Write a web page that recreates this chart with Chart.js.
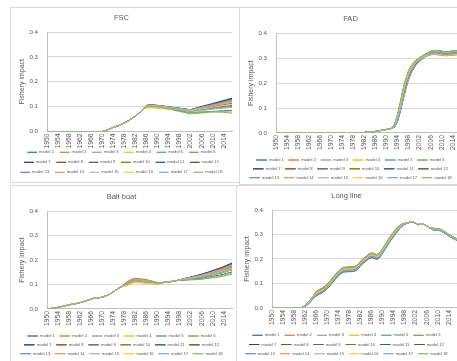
<!DOCTYPE html>
<html>
<head>
<meta charset="utf-8">
<title>Fishery impact by gear</title>
<script src="https://cdn.jsdelivr.net/npm/chart.js"></script>
<style>
  html, body { margin: 0; padding: 0; background: #fff; }
  #page { position: relative; width: 457px; height: 361px; overflow: hidden; }
  .frame { position: absolute; border: 1px solid #d9d9d9; box-sizing: border-box; }
  canvas { position: absolute; }
</style>
</head>
<body>
<div id="page">
  <div class="frame" style="left:10px;top:7px;width:230px;height:176px"></div>
  <div class="frame" style="left:239px;top:7px;width:231px;height:178px"></div>
  <div class="frame" style="left:10px;top:185px;width:227px;height:177px"></div>
  <div class="frame" style="left:236px;top:185px;width:230px;height:177px"></div>
  <canvas id="fsc" width="226" height="181" style="left:11px;top:8px"></canvas>
  <canvas id="fad" width="226" height="179" style="left:240px;top:8px"></canvas>
  <canvas id="bait" width="226" height="176" style="left:11px;top:187px"></canvas>
  <canvas id="longline" width="226" height="176" style="left:236px;top:187px"></canvas>
</div>
<script>
// years on the category axis
const years = ['1950','1951','1952','1953','1954','1955','1956','1957','1958','1959',
  '1960','1961','1962','1963','1964','1965','1966','1967','1968','1969',
  '1970','1971','1972','1973','1974','1975','1976','1977','1978','1979',
  '1980','1981','1982','1983','1984','1985','1986','1987','1988','1989',
  '1990','1991','1992','1993','1994','1995','1996','1997','1998','1999',
  '2000','2001','2002','2003','2004','2005','2006','2007','2008','2009',
  '2010','2011','2012','2013','2014','2015','2016','2017'];

const modelNames = ['model 1','model 2','model 3','model 4','model 5','model 6',
  'model 7','model 8','model 9','model 10','model 11','model 12',
  'model 13','model 14','model 15','model 16','model 17','model 18'];

const modelColors = ['#4472C4','#ED7D31','#A5A5A5','#FFC000','#5B9BD5','#70AD47',
  '#264478','#9E480E','#636363','#997300','#255E91','#43682B',
  '#698ED0','#F1975A','#B7B7B7','#FFCD33','#7CAFDD','#8CC168'];

// FSC: 1950-1985 (all models overlap), then 1986-2017 per model
const fscStart = [0,0,0,0,0,0,0,0,0,0,0,0,0,0,0,0,0,0,0,0,
  0,0.003,0.007,0.011,0.016,0.020,0.024,0.029,0.034,0.040,0.047,0.054,0.062,0.071,0.081,0.093];
const fscModels = [
  [0.104,0.106,0.106,0.105,0.104,0.103,0.102,0.100,0.098,0.097,0.095,0.094,0.092,0.091,0.090,0.088,0.087,0.090,0.093,0.096,0.099,0.102,0.105,0.107,0.110,0.113,0.116,0.119,0.122,0.125,0.128,0.131],
  [0.103,0.105,0.105,0.104,0.103,0.102,0.100,0.099,0.097,0.096,0.094,0.093,0.091,0.090,0.088,0.087,0.085,0.087,0.090,0.092,0.095,0.097,0.100,0.102,0.105,0.107,0.110,0.112,0.115,0.117,0.120,0.122],
  [0.105,0.107,0.107,0.106,0.105,0.104,0.102,0.101,0.099,0.098,0.096,0.095,0.094,0.092,0.091,0.089,0.088,0.091,0.094,0.097,0.101,0.104,0.107,0.110,0.113,0.116,0.119,0.122,0.126,0.129,0.132,0.135],
  [0.093,0.095,0.095,0.094,0.093,0.092,0.091,0.090,0.089,0.088,0.087,0.087,0.086,0.085,0.084,0.083,0.082,0.084,0.086,0.088,0.090,0.092,0.094,0.096,0.098,0.100,0.102,0.104,0.106,0.108,0.110,0.112],
  [0.100,0.102,0.102,0.101,0.100,0.099,0.097,0.096,0.094,0.093,0.091,0.090,0.088,0.087,0.085,0.084,0.082,0.083,0.085,0.086,0.087,0.088,0.090,0.091,0.092,0.093,0.095,0.096,0.097,0.098,0.100,0.101],
  [0.100,0.102,0.102,0.101,0.100,0.098,0.095,0.093,0.090,0.088,0.086,0.083,0.081,0.078,0.076,0.073,0.071,0.072,0.073,0.074,0.075,0.076,0.077,0.078,0.078,0.078,0.078,0.078,0.077,0.076,0.075,0.074],
  [0.105,0.107,0.107,0.106,0.105,0.104,0.102,0.101,0.099,0.098,0.096,0.095,0.094,0.092,0.091,0.089,0.088,0.091,0.094,0.097,0.100,0.103,0.106,0.109,0.112,0.115,0.118,0.121,0.124,0.127,0.130,0.133],
  [0.104,0.106,0.106,0.105,0.104,0.103,0.101,0.100,0.098,0.097,0.095,0.094,0.092,0.091,0.089,0.088,0.086,0.089,0.091,0.094,0.096,0.099,0.101,0.104,0.106,0.109,0.111,0.114,0.116,0.119,0.121,0.124],
  [0.103,0.105,0.105,0.104,0.103,0.102,0.100,0.099,0.097,0.096,0.095,0.093,0.092,0.090,0.089,0.087,0.086,0.089,0.092,0.094,0.097,0.100,0.103,0.106,0.108,0.111,0.114,0.117,0.120,0.122,0.125,0.128],
  [0.098,0.100,0.100,0.099,0.098,0.097,0.096,0.094,0.093,0.092,0.091,0.089,0.088,0.087,0.086,0.084,0.083,0.085,0.087,0.089,0.091,0.093,0.095,0.097,0.100,0.102,0.104,0.106,0.108,0.110,0.112,0.114],
  [0.101,0.103,0.103,0.102,0.101,0.100,0.098,0.097,0.095,0.094,0.092,0.091,0.089,0.088,0.086,0.085,0.083,0.085,0.086,0.088,0.089,0.091,0.092,0.094,0.095,0.097,0.098,0.100,0.101,0.103,0.104,0.106],
  [0.101,0.103,0.103,0.102,0.101,0.099,0.097,0.095,0.093,0.091,0.088,0.086,0.084,0.082,0.080,0.078,0.076,0.077,0.077,0.078,0.078,0.079,0.080,0.080,0.081,0.081,0.082,0.083,0.083,0.084,0.084,0.085],
  [0.104,0.106,0.106,0.105,0.104,0.103,0.102,0.100,0.098,0.097,0.095,0.094,0.092,0.091,0.090,0.088,0.087,0.090,0.092,0.095,0.097,0.100,0.103,0.105,0.108,0.110,0.113,0.116,0.118,0.121,0.123,0.126],
  [0.102,0.104,0.104,0.103,0.102,0.101,0.100,0.098,0.096,0.095,0.094,0.092,0.091,0.089,0.088,0.086,0.085,0.087,0.089,0.092,0.094,0.096,0.098,0.100,0.103,0.105,0.107,0.109,0.111,0.114,0.116,0.118],
  [0.104,0.106,0.106,0.105,0.104,0.103,0.101,0.100,0.098,0.097,0.095,0.094,0.092,0.091,0.089,0.088,0.086,0.088,0.091,0.093,0.096,0.098,0.101,0.103,0.106,0.108,0.111,0.113,0.116,0.118,0.121,0.123],
  [0.095,0.097,0.097,0.096,0.095,0.094,0.093,0.092,0.091,0.090,0.089,0.088,0.087,0.086,0.085,0.084,0.083,0.085,0.086,0.088,0.090,0.092,0.093,0.095,0.097,0.099,0.100,0.102,0.104,0.105,0.107,0.109],
  [0.100,0.102,0.102,0.101,0.100,0.098,0.097,0.095,0.094,0.092,0.090,0.089,0.087,0.086,0.084,0.082,0.081,0.082,0.083,0.084,0.085,0.086,0.087,0.088,0.090,0.091,0.092,0.093,0.094,0.095,0.096,0.097],
  [0.099,0.101,0.101,0.100,0.099,0.097,0.095,0.094,0.092,0.090,0.088,0.086,0.085,0.083,0.081,0.079,0.077,0.077,0.078,0.078,0.078,0.079,0.079,0.079,0.080,0.080,0.080,0.081,0.081,0.081,0.082,0.082]
];

// FAD: 1950-1992 shared, then 1993-2017 per model
const fadStart = [0,0,0,0,0,0,0,0,0,0,0,0,0,0,0,0,0,0,0,0,0,0,0,0,0,0,0,0,0,0,
  0,0.001,0.002,0.003,0.004,0.005,0.006,0.008,0.010,0.012,0.014,0.016,0.019];
const fadModels = [
  [0.025,0.048,0.088,0.135,0.180,0.218,0.245,0.264,0.278,0.289,0.298,0.306,0.313,0.318,0.321,0.322,0.321,0.319,0.318,0.318,0.319,0.320,0.321,0.322,0.323],
  [0.030,0.060,0.105,0.155,0.200,0.235,0.258,0.274,0.285,0.294,0.301,0.306,0.310,0.313,0.315,0.315,0.313,0.311,0.310,0.310,0.311,0.312,0.313,0.314,0.315],
  [0.034,0.068,0.117,0.168,0.212,0.245,0.266,0.280,0.291,0.299,0.306,0.313,0.319,0.324,0.327,0.328,0.327,0.325,0.324,0.324,0.325,0.326,0.326,0.327,0.328],
  [0.031,0.062,0.108,0.158,0.203,0.237,0.259,0.275,0.287,0.296,0.303,0.309,0.314,0.317,0.319,0.319,0.317,0.315,0.313,0.313,0.314,0.315,0.316,0.317,0.317],
  [0.024,0.046,0.085,0.131,0.176,0.214,0.242,0.262,0.277,0.288,0.297,0.305,0.312,0.317,0.320,0.321,0.320,0.318,0.317,0.317,0.318,0.319,0.320,0.321,0.322],
  [0.036,0.072,0.122,0.175,0.218,0.250,0.270,0.284,0.295,0.303,0.310,0.317,0.323,0.328,0.331,0.332,0.331,0.329,0.327,0.327,0.328,0.329,0.329,0.330,0.331],
  [0.026,0.050,0.090,0.138,0.183,0.221,0.247,0.266,0.280,0.291,0.300,0.308,0.315,0.320,0.323,0.324,0.323,0.321,0.320,0.320,0.321,0.322,0.323,0.324,0.325],
  [0.030,0.061,0.106,0.156,0.201,0.236,0.258,0.274,0.286,0.295,0.302,0.308,0.313,0.316,0.318,0.318,0.316,0.314,0.312,0.312,0.313,0.314,0.315,0.316,0.317],
  [0.031,0.063,0.110,0.160,0.205,0.239,0.261,0.277,0.289,0.298,0.305,0.311,0.317,0.321,0.323,0.323,0.322,0.320,0.318,0.318,0.319,0.320,0.321,0.322,0.322],
  [0.032,0.064,0.111,0.161,0.206,0.240,0.262,0.277,0.288,0.297,0.304,0.310,0.315,0.318,0.320,0.320,0.318,0.316,0.314,0.314,0.315,0.316,0.317,0.318,0.319],
  [0.025,0.047,0.087,0.133,0.178,0.216,0.244,0.263,0.278,0.289,0.298,0.306,0.313,0.318,0.321,0.322,0.321,0.319,0.318,0.318,0.319,0.320,0.321,0.322,0.323],
  [0.035,0.070,0.120,0.172,0.215,0.248,0.268,0.282,0.293,0.301,0.308,0.315,0.321,0.326,0.329,0.330,0.329,0.327,0.326,0.326,0.327,0.328,0.328,0.329,0.330],
  [0.026,0.049,0.089,0.136,0.181,0.219,0.246,0.265,0.279,0.290,0.299,0.307,0.314,0.319,0.322,0.323,0.322,0.320,0.319,0.319,0.320,0.321,0.322,0.323,0.324],
  [0.030,0.061,0.107,0.157,0.202,0.236,0.259,0.275,0.286,0.295,0.302,0.307,0.311,0.314,0.316,0.316,0.314,0.312,0.311,0.311,0.312,0.313,0.314,0.315,0.316],
  [0.033,0.066,0.115,0.166,0.210,0.244,0.265,0.279,0.290,0.298,0.305,0.312,0.318,0.323,0.326,0.327,0.326,0.324,0.323,0.323,0.324,0.325,0.325,0.326,0.327],
  [0.031,0.062,0.108,0.158,0.203,0.237,0.260,0.276,0.287,0.296,0.303,0.309,0.313,0.316,0.318,0.318,0.316,0.314,0.312,0.312,0.313,0.314,0.315,0.316,0.316],
  [0.024,0.047,0.086,0.132,0.177,0.215,0.243,0.263,0.277,0.288,0.297,0.305,0.312,0.317,0.320,0.321,0.320,0.318,0.317,0.317,0.318,0.319,0.320,0.321,0.322],
  [0.035,0.071,0.121,0.173,0.216,0.249,0.269,0.283,0.294,0.302,0.309,0.316,0.322,0.327,0.330,0.331,0.330,0.328,0.326,0.326,0.327,0.328,0.328,0.329,0.330]
];

// Bait boat: 1950-1977 shared, then 1978-2017 per model
const baitStart = [0,0.001,0.003,0.005,0.007,0.009,0.011,0.014,0.017,0.019,
  0.021,0.023,0.026,0.029,0.032,0.036,0.041,0.044,0.045,0.046,
  0.048,0.052,0.057,0.063,0.070,0.078,0.085,0.091];
const baitModels = [
  [0.098,0.104,0.110,0.115,0.118,0.117,0.115,0.114,0.113,0.112,0.110,0.107,0.104,0.106,0.108,0.109,0.110,0.112,0.114,0.116,0.119,0.121,0.124,0.127,0.130,0.132,0.135,0.138,0.140,0.144,0.148,0.151,0.155,0.159,0.163,0.166,0.171,0.176,0.180,0.185],
  [0.102,0.111,0.117,0.122,0.125,0.124,0.122,0.121,0.120,0.116,0.114,0.111,0.108,0.106,0.108,0.109,0.110,0.112,0.114,0.116,0.118,0.121,0.123,0.125,0.128,0.130,0.132,0.134,0.137,0.140,0.143,0.147,0.150,0.153,0.157,0.160,0.164,0.168,0.173,0.177],
  [0.099,0.106,0.112,0.117,0.120,0.119,0.117,0.116,0.115,0.113,0.111,0.108,0.105,0.106,0.108,0.109,0.110,0.112,0.114,0.116,0.119,0.121,0.124,0.126,0.129,0.131,0.134,0.136,0.139,0.142,0.146,0.149,0.153,0.156,0.160,0.163,0.168,0.172,0.177,0.181],
  [0.093,0.094,0.100,0.105,0.108,0.107,0.106,0.105,0.104,0.104,0.103,0.101,0.099,0.104,0.107,0.109,0.110,0.112,0.114,0.116,0.118,0.120,0.122,0.124,0.126,0.127,0.129,0.131,0.133,0.136,0.139,0.142,0.145,0.148,0.151,0.153,0.157,0.161,0.165,0.169],
  [0.097,0.102,0.108,0.113,0.116,0.115,0.113,0.112,0.111,0.111,0.109,0.106,0.103,0.106,0.108,0.109,0.110,0.112,0.114,0.116,0.117,0.119,0.120,0.122,0.123,0.124,0.126,0.127,0.129,0.131,0.133,0.136,0.138,0.141,0.143,0.145,0.149,0.152,0.156,0.159],
  [0.098,0.104,0.110,0.115,0.118,0.117,0.115,0.114,0.113,0.112,0.110,0.107,0.104,0.106,0.108,0.109,0.110,0.112,0.114,0.116,0.117,0.117,0.118,0.118,0.119,0.119,0.120,0.120,0.121,0.123,0.124,0.126,0.127,0.129,0.130,0.132,0.134,0.137,0.139,0.142],
  [0.099,0.106,0.112,0.117,0.120,0.119,0.117,0.116,0.115,0.113,0.111,0.108,0.105,0.106,0.108,0.109,0.110,0.112,0.114,0.116,0.119,0.122,0.125,0.127,0.130,0.133,0.136,0.139,0.142,0.146,0.149,0.153,0.157,0.161,0.165,0.169,0.173,0.178,0.183,0.188],
  [0.101,0.110,0.116,0.121,0.124,0.123,0.121,0.120,0.119,0.115,0.113,0.110,0.107,0.106,0.108,0.109,0.110,0.112,0.114,0.116,0.118,0.121,0.123,0.126,0.128,0.130,0.133,0.135,0.138,0.141,0.144,0.148,0.151,0.155,0.158,0.161,0.166,0.170,0.175,0.179],
  [0.099,0.105,0.111,0.116,0.119,0.118,0.116,0.115,0.114,0.113,0.111,0.108,0.105,0.106,0.108,0.109,0.110,0.112,0.114,0.116,0.119,0.121,0.124,0.126,0.129,0.132,0.134,0.137,0.139,0.143,0.147,0.150,0.154,0.157,0.161,0.165,0.169,0.174,0.178,0.183],
  [0.096,0.100,0.106,0.111,0.114,0.113,0.111,0.110,0.109,0.109,0.108,0.105,0.102,0.106,0.108,0.109,0.110,0.112,0.114,0.116,0.118,0.120,0.122,0.124,0.126,0.128,0.130,0.132,0.134,0.137,0.140,0.143,0.146,0.149,0.152,0.155,0.159,0.163,0.167,0.171],
  [0.098,0.103,0.109,0.114,0.117,0.116,0.114,0.113,0.112,0.112,0.110,0.107,0.104,0.106,0.108,0.109,0.110,0.112,0.114,0.116,0.118,0.119,0.121,0.123,0.125,0.126,0.128,0.130,0.131,0.134,0.137,0.139,0.142,0.145,0.148,0.150,0.154,0.158,0.161,0.165],
  [0.099,0.105,0.111,0.116,0.119,0.118,0.116,0.115,0.114,0.113,0.111,0.108,0.105,0.106,0.108,0.109,0.110,0.112,0.114,0.116,0.117,0.118,0.119,0.120,0.121,0.122,0.123,0.124,0.125,0.127,0.129,0.131,0.133,0.135,0.137,0.139,0.142,0.145,0.148,0.151],
  [0.099,0.105,0.111,0.116,0.119,0.118,0.116,0.115,0.114,0.113,0.111,0.108,0.105,0.106,0.108,0.109,0.110,0.112,0.114,0.116,0.118,0.121,0.123,0.125,0.127,0.130,0.132,0.134,0.136,0.140,0.143,0.146,0.149,0.153,0.156,0.159,0.163,0.168,0.172,0.176],
  [0.101,0.109,0.115,0.120,0.123,0.122,0.120,0.119,0.118,0.115,0.113,0.110,0.107,0.106,0.108,0.109,0.110,0.112,0.114,0.116,0.118,0.120,0.122,0.125,0.127,0.129,0.131,0.133,0.135,0.139,0.142,0.145,0.148,0.151,0.154,0.157,0.162,0.166,0.170,0.174],
  [0.099,0.106,0.112,0.117,0.120,0.119,0.117,0.116,0.115,0.113,0.111,0.108,0.105,0.106,0.108,0.109,0.110,0.112,0.114,0.116,0.118,0.121,0.123,0.126,0.128,0.130,0.133,0.135,0.138,0.141,0.144,0.148,0.151,0.155,0.158,0.161,0.166,0.170,0.175,0.179],
  [0.094,0.096,0.102,0.107,0.110,0.109,0.107,0.106,0.105,0.105,0.104,0.102,0.100,0.105,0.107,0.109,0.110,0.112,0.114,0.116,0.118,0.120,0.121,0.123,0.125,0.127,0.129,0.130,0.132,0.135,0.138,0.141,0.143,0.146,0.149,0.152,0.156,0.159,0.163,0.167],
  [0.097,0.102,0.108,0.113,0.116,0.115,0.113,0.112,0.111,0.111,0.109,0.106,0.103,0.106,0.108,0.109,0.110,0.112,0.114,0.116,0.118,0.119,0.121,0.122,0.124,0.125,0.127,0.128,0.130,0.133,0.135,0.138,0.140,0.143,0.145,0.148,0.151,0.155,0.158,0.162],
  [0.098,0.104,0.110,0.115,0.118,0.117,0.115,0.114,0.113,0.112,0.110,0.107,0.104,0.106,0.108,0.109,0.110,0.112,0.114,0.116,0.117,0.118,0.118,0.119,0.120,0.121,0.122,0.122,0.123,0.125,0.127,0.129,0.130,0.132,0.134,0.136,0.139,0.141,0.144,0.147]
];

// Long line: 1950-1962 shared, then 1963-2017 per model
const longStart = [0,0,0,0,0,0,0,0,0,0,0,0.002,0.008];
const longModels = [
  [0.013,0.025,0.040,0.048,0.055,0.060,0.068,0.078,0.090,0.105,0.118,0.130,0.140,0.146,0.147,0.148,0.148,0.150,0.157,0.170,0.182,0.190,0.200,0.205,0.202,0.198,0.205,0.222,0.240,0.258,0.275,0.290,0.305,0.321,0.332,0.341,0.347,0.350,0.352,0.345,0.340,0.343,0.342,0.336,0.328,0.320,0.317,0.317,0.315,0.309,0.302,0.294,0.287,0.281,0.276],
  [0.015,0.027,0.042,0.052,0.059,0.064,0.072,0.082,0.094,0.109,0.122,0.134,0.144,0.150,0.151,0.152,0.152,0.154,0.161,0.174,0.186,0.194,0.204,0.209,0.206,0.202,0.209,0.226,0.244,0.262,0.279,0.294,0.309,0.324,0.334,0.342,0.347,0.350,0.352,0.345,0.340,0.343,0.342,0.336,0.328,0.322,0.319,0.319,0.317,0.311,0.304,0.296,0.289,0.283,0.278],
  [0.021,0.033,0.048,0.064,0.071,0.076,0.084,0.094,0.106,0.121,0.134,0.146,0.156,0.162,0.163,0.164,0.164,0.166,0.173,0.186,0.198,0.206,0.216,0.221,0.218,0.214,0.221,0.238,0.256,0.274,0.291,0.306,0.321,0.333,0.340,0.345,0.347,0.350,0.352,0.345,0.340,0.343,0.342,0.336,0.328,0.326,0.323,0.323,0.321,0.315,0.308,0.300,0.293,0.287,0.282],
  [0.017,0.029,0.044,0.055,0.062,0.067,0.075,0.085,0.097,0.112,0.125,0.137,0.147,0.153,0.154,0.155,0.155,0.157,0.164,0.177,0.189,0.197,0.207,0.212,0.209,0.205,0.212,0.229,0.247,0.265,0.282,0.297,0.312,0.326,0.336,0.342,0.347,0.350,0.352,0.345,0.340,0.343,0.342,0.336,0.328,0.323,0.320,0.320,0.318,0.312,0.305,0.297,0.290,0.284,0.279],
  [0.014,0.026,0.041,0.050,0.057,0.062,0.070,0.080,0.092,0.107,0.120,0.132,0.142,0.148,0.149,0.150,0.150,0.152,0.159,0.172,0.184,0.192,0.202,0.207,0.204,0.200,0.207,0.224,0.242,0.260,0.277,0.292,0.307,0.322,0.333,0.341,0.347,0.350,0.352,0.345,0.340,0.343,0.342,0.336,0.328,0.320,0.317,0.317,0.315,0.309,0.302,0.294,0.287,0.281,0.276],
  [0.023,0.035,0.050,0.068,0.075,0.080,0.088,0.098,0.110,0.125,0.138,0.150,0.160,0.166,0.167,0.168,0.168,0.170,0.177,0.190,0.202,0.210,0.220,0.225,0.222,0.218,0.225,0.242,0.260,0.278,0.295,0.310,0.325,0.336,0.342,0.346,0.347,0.350,0.352,0.345,0.340,0.343,0.342,0.336,0.328,0.327,0.324,0.324,0.322,0.316,0.309,0.301,0.294,0.288,0.283],
  [0.016,0.028,0.043,0.054,0.061,0.066,0.074,0.084,0.096,0.111,0.124,0.136,0.146,0.152,0.153,0.154,0.154,0.156,0.163,0.176,0.188,0.196,0.206,0.211,0.208,0.204,0.211,0.228,0.246,0.264,0.281,0.296,0.311,0.325,0.335,0.342,0.347,0.350,0.352,0.345,0.340,0.343,0.342,0.336,0.328,0.322,0.319,0.319,0.317,0.311,0.304,0.296,0.289,0.283,0.278],
  [0.017,0.029,0.044,0.056,0.063,0.068,0.076,0.086,0.098,0.113,0.126,0.138,0.148,0.154,0.155,0.156,0.156,0.158,0.165,0.178,0.190,0.198,0.208,0.213,0.210,0.206,0.213,0.230,0.248,0.266,0.283,0.298,0.313,0.327,0.336,0.343,0.347,0.350,0.352,0.345,0.340,0.343,0.342,0.336,0.328,0.323,0.320,0.320,0.318,0.312,0.305,0.297,0.290,0.284,0.279],
  [0.020,0.032,0.047,0.062,0.069,0.074,0.082,0.092,0.104,0.119,0.132,0.144,0.154,0.160,0.161,0.162,0.162,0.164,0.171,0.184,0.196,0.204,0.214,0.219,0.216,0.212,0.219,0.236,0.254,0.272,0.289,0.304,0.319,0.331,0.339,0.344,0.347,0.350,0.352,0.345,0.340,0.343,0.342,0.336,0.328,0.325,0.322,0.322,0.320,0.314,0.307,0.299,0.292,0.286,0.281],
  [0.018,0.030,0.045,0.058,0.065,0.070,0.078,0.088,0.100,0.115,0.128,0.140,0.150,0.156,0.157,0.158,0.158,0.160,0.167,0.180,0.192,0.200,0.210,0.215,0.212,0.208,0.215,0.232,0.250,0.268,0.285,0.300,0.315,0.328,0.337,0.343,0.347,0.350,0.352,0.345,0.340,0.343,0.342,0.336,0.328,0.323,0.320,0.320,0.318,0.312,0.305,0.297,0.290,0.284,0.279],
  [0.015,0.027,0.042,0.051,0.058,0.063,0.071,0.081,0.093,0.108,0.121,0.133,0.143,0.149,0.150,0.151,0.151,0.153,0.160,0.173,0.185,0.193,0.203,0.208,0.205,0.201,0.208,0.225,0.243,0.261,0.278,0.293,0.308,0.323,0.334,0.341,0.347,0.350,0.352,0.345,0.340,0.343,0.342,0.336,0.328,0.321,0.318,0.318,0.316,0.310,0.303,0.295,0.288,0.282,0.277],
  [0.022,0.034,0.049,0.066,0.073,0.078,0.086,0.096,0.108,0.123,0.136,0.148,0.158,0.164,0.165,0.166,0.166,0.168,0.175,0.188,0.200,0.208,0.218,0.223,0.220,0.216,0.223,0.240,0.258,0.276,0.293,0.308,0.323,0.334,0.341,0.345,0.347,0.350,0.352,0.345,0.340,0.343,0.342,0.336,0.328,0.326,0.323,0.323,0.321,0.315,0.308,0.300,0.293,0.287,0.282],
  [0.016,0.028,0.043,0.053,0.060,0.065,0.073,0.083,0.095,0.110,0.123,0.135,0.145,0.151,0.152,0.153,0.153,0.155,0.162,0.175,0.187,0.195,0.205,0.210,0.207,0.203,0.210,0.227,0.245,0.263,0.280,0.295,0.310,0.324,0.335,0.342,0.347,0.350,0.352,0.345,0.340,0.343,0.342,0.336,0.328,0.322,0.319,0.319,0.317,0.311,0.304,0.296,0.289,0.283,0.278],
  [0.018,0.030,0.045,0.057,0.064,0.069,0.077,0.087,0.099,0.114,0.127,0.139,0.149,0.155,0.156,0.157,0.157,0.159,0.166,0.179,0.191,0.199,0.209,0.214,0.211,0.207,0.214,0.231,0.249,0.267,0.284,0.299,0.314,0.327,0.336,0.343,0.347,0.350,0.352,0.345,0.340,0.343,0.342,0.336,0.328,0.323,0.320,0.320,0.318,0.312,0.305,0.297,0.290,0.284,0.279],
  [0.021,0.033,0.048,0.063,0.070,0.075,0.083,0.093,0.105,0.120,0.133,0.145,0.155,0.161,0.162,0.163,0.163,0.165,0.172,0.185,0.197,0.205,0.215,0.220,0.217,0.213,0.220,0.237,0.255,0.273,0.290,0.305,0.320,0.332,0.340,0.344,0.347,0.350,0.352,0.345,0.340,0.343,0.342,0.336,0.328,0.325,0.322,0.322,0.320,0.314,0.307,0.299,0.292,0.286,0.281],
  [0.019,0.031,0.046,0.059,0.066,0.071,0.079,0.089,0.101,0.116,0.129,0.141,0.151,0.157,0.158,0.159,0.159,0.161,0.168,0.181,0.193,0.201,0.211,0.216,0.213,0.209,0.216,0.233,0.251,0.269,0.286,0.301,0.316,0.329,0.338,0.343,0.347,0.350,0.352,0.345,0.340,0.343,0.342,0.336,0.328,0.323,0.320,0.320,0.318,0.312,0.305,0.297,0.290,0.284,0.279],
  [0.015,0.027,0.042,0.052,0.059,0.064,0.072,0.082,0.094,0.109,0.122,0.134,0.144,0.150,0.151,0.152,0.152,0.154,0.161,0.174,0.186,0.194,0.204,0.209,0.206,0.202,0.209,0.226,0.244,0.262,0.279,0.294,0.309,0.324,0.334,0.342,0.347,0.350,0.352,0.345,0.340,0.343,0.342,0.336,0.328,0.321,0.318,0.318,0.316,0.310,0.303,0.295,0.288,0.282,0.277],
  [0.023,0.035,0.050,0.067,0.074,0.079,0.087,0.097,0.109,0.124,0.137,0.149,0.159,0.165,0.166,0.167,0.167,0.169,0.176,0.189,0.201,0.209,0.219,0.224,0.221,0.217,0.224,0.241,0.259,0.277,0.294,0.309,0.324,0.335,0.342,0.345,0.347,0.350,0.352,0.345,0.340,0.343,0.342,0.336,0.328,0.326,0.323,0.323,0.321,0.315,0.308,0.300,0.293,0.287,0.282]
];

Chart.defaults.font.family = '"Liberation Sans", Arial, sans-serif';
Chart.defaults.color = '#595959';

// nudges the legend block up/down after layout so the rows sit where the original has them
const legendShift = {
  id: 'legendShift',
  afterLayout(chart, args, opts) {
    const lg = chart.legend;
    if (lg && opts.shift) {
      lg.top -= opts.shift;
      lg.bottom -= opts.shift;
    }
  }
};

// vertical year labels every 4th category, placed with the x scale
// (Chart.js squeezes rotated tick text when the axis is this short)
const yearLabels = {
  id: 'yearLabels',
  afterDraw(chart) {
    const sc = chart.scales.x;
    const c = chart.ctx;
    c.save();
    c.fillStyle = '#595959';
    c.font = '6.8px "Liberation Sans", Arial, sans-serif';
    c.textAlign = 'right';
    c.textBaseline = 'middle';
    years.forEach((label, i) => {
      if (i % 4 !== 0) return;
      c.save();
      c.translate(sc.getPixelForTick(i), sc.top + 2);
      c.rotate(-Math.PI / 2);
      c.fillText(label, 0, 0);
      c.restore();
    });
    c.restore();
  }
};

const panels = [
  { id: 'fsc', title: 'FSC', start: fscStart, models: fscModels, titlePad: { top: 5.5, bottom: 9.5 }, legendPad: 5.8, boxW: 9.5, shift: 4.6 },
  { id: 'fad', title: 'FAD', start: fadStart, models: fadModels, titlePad: { top: 6.5, bottom: 9.8 }, legendPad: 4.65, boxW: 10.5, shift: -2.8 },
  { id: 'bait', title: 'Bait boat', start: baitStart, models: baitModels, titlePad: { top: 5.8, bottom: 9.2 }, legendPad: 4.65, boxW: 10.5, shift: -2.8 },
  { id: 'longline', title: 'Long line', start: longStart, models: longModels, titlePad: { top: 4.2, bottom: 9.8 }, legendPad: 5.0, boxW: 10.2, shift: -2.8 }
];

function drawPanel(p) {
  const ctx = document.getElementById(p.id).getContext('2d');
  new Chart(ctx, {
    type: 'line',
    plugins: [legendShift, yearLabels],
    data: {
      labels: years,
      datasets: p.models.map((vals, i) => ({
        label: modelNames[i],
        data: p.start.concat(vals),
        borderColor: modelColors[i],
        backgroundColor: modelColors[i],
        borderWidth: 1,
        pointRadius: 0,
        order: modelNames.length - i   // later models on top, like the original
      }))
    },
    options: {
      responsive: false,
      animation: false,
      events: [],
      layout: { padding: { left: 0, right: 5, top: 0, bottom: 0 } },
      plugins: {
        title: {
          display: true,
          text: p.title,
          color: '#595959',
          font: { size: 7.5, weight: 'normal' },
          padding: p.titlePad
        },
        legend: {
          position: 'bottom',
          labels: {
            boxWidth: p.boxW,
            boxHeight: 0,
            padding: p.legendPad,
            color: '#595959',
            font: { size: 4.2 },
            sort: (a, b) => a.datasetIndex - b.datasetIndex
          }
        },
        legendShift: { shift: p.shift },
        tooltip: { enabled: false }
      },
      scales: {
        x: {
          grid: { display: false },
          border: { display: true, color: '#bfbfbf' },
          ticks: { display: false, autoSkip: false },
          afterFit: function(axis) { axis.height = 17.5; }
        },
        y: {
          min: 0,
          max: 0.4,
          grid: { color: '#d9d9d9', drawTicks: false },
          border: { display: true, color: '#bfbfbf' },
          ticks: {
            stepSize: 0.1,
            padding: 9,
            font: { size: 6.2 },
            callback: v => v.toFixed(1)
          },
          title: {
            display: true,
            text: 'Fishery impact',
            font: { size: 7 },
            padding: { top: 7, bottom: 0 }
          },
          afterFit: function(axis) { axis.width = 36; }
        }
      }
    }
  });
}

panels.forEach(drawPanel);
</script>
</body>
</html>
